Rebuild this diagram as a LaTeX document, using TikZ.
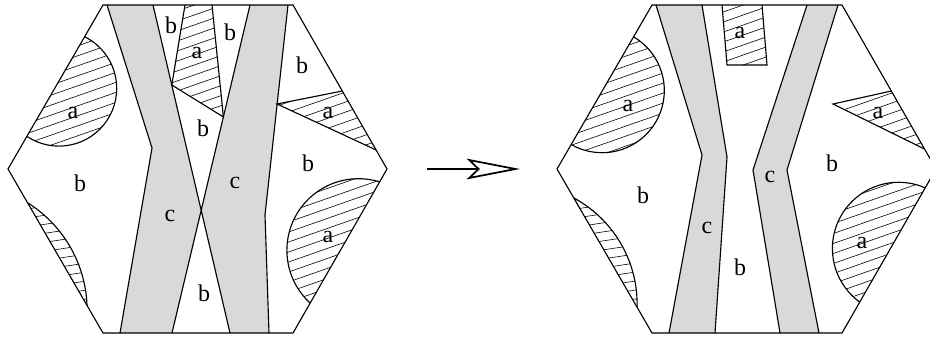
\documentclass[tikz,border=0pt]{standalone}
\usepackage{fontspec}
\setmainfont{Liberation Serif}
\usetikzlibrary{arrows.meta}
\definecolor{bandgray}{RGB}{217,217,217}
\tikzset{
  edge/.style={line width=0.85pt,black},
  hatchline/.style={line width=0.45pt,black},
  lbl/.style={font=\fontsize{18}{20}\selectfont,inner sep=0pt},
  flowarrow/.style={line width=1.3pt,-{Stealth[open,length=40pt,width=15.5pt,inset=8pt]}},
}
% hexagon outline, local frame
\newcommand{\hexpath}{(103,5) -- (293,5) -- (387,169) -- (293,333) -- (103,333) -- (8,169) -- cycle}
% #1 clip commands, #2 slope, #3 gap
\newcommand{\hatchin}[3]{%
  \begin{scope}
    #1
    \foreach \k in {-30,...,70}
      \draw[hatchline] (-20,{\k*#3}) -- ++(430,{-430*#2});
  \end{scope}}

\begin{document}
\begin{tikzpicture}[x=0.75pt,y=-0.75pt]
\clip (0,0) rectangle (930,339);

% left hexagon
\fill[bandgray] (107,5) -- (153,5) -- (201.2,210.3) -- (250,5) -- (288,5) -- (265,215) -- (269,333)
  -- (230,333) -- (201.2,210.3) -- (172,333) -- (120,333) -- (152,148) -- cycle;
\hatchin{\clip (185,5) -- (212,5) -- (223.4,117) -- (171.8,85) -- cycle;}{0.35}{10}
\hatchin{\clip (277,104) -- (342.3,91) -- (376.1,150) -- cycle;}{0.35}{10}
\hatchin{\clip \hexpath; \clip (59,88.4) circle (57.7);}{0.35}{10}
\hatchin{\clip \hexpath; \clip (-39.6,310.2) circle (126.7);}{0.15}{9}
\hatchin{\clip \hexpath; \clip (358.5,250.3) circle (71.6);}{0.35}{10}
\begin{scope}
  \clip \hexpath;
  \draw[edge] (59,88.4) circle (57.7) (-39.6,310.2) circle (126.7) (358.5,250.3) circle (71.6);
\end{scope}
\draw[edge] (107,5) -- (152,148) -- (120,333) (288,5) -- (265,215) -- (269,333);
\draw[edge] (153,5) -- (230,333) (250,5) -- (172,333);
\draw[edge] (185,5) -- (171.8,85) -- (223.4,117) -- (212,5);
\draw[edge] (342.3,91) -- (277,104) -- (376.1,150);
\draw[edge] \hexpath;
\foreach \t/\x/\y in {b/171/25,a/197/53,b/230/32,b/203/128,a/73/113,b/80/183,c/170/216,
  c/235/183,b/204/293,b/302/65,a/328/113,b/308/163,a/328/237}
  \node[lbl] (left\t\x) at (\x,\y) {\t};

% arrow
\coordinate (arrowstart) at (427,169);
\coordinate (arrowend) at (520,169);
\draw[flowarrow] (arrowstart) -- (arrowend);

% right hexagon
\begin{scope}[shift={(549,0)}]
\fill[bandgray] (107,5) -- (153,5) -- (178,157) -- (166,333) -- (120,333) -- (153,155) -- cycle;
\fill[bandgray] (258,5) -- (289,5) -- (238,170) -- (270,333) -- (231,333) -- (204,170) -- cycle;
\hatchin{\clip (173,5) -- (213,5) -- (218,65) -- (178,65) -- cycle;}{0.35}{10}
\hatchin{\clip (284,104) -- (342.3,91) -- (375.5,149) -- cycle;}{0.35}{10}
\hatchin{\clip \hexpath; \clip (53.1,90.5) circle (62.2);}{0.35}{10}
\hatchin{\clip \hexpath; \clip (-32.6,304.1) circle (120.7);}{0.15}{9}
\hatchin{\clip \hexpath; \clip (349.6,248.5) circle (66.2);}{0.35}{10}
\begin{scope}
  \clip \hexpath;
  \draw[edge] (53.1,90.5) circle (62.2) (-32.6,304.1) circle (120.7) (349.6,248.5) circle (66.2);
\end{scope}
\draw[edge] (107,5) -- (153,155) -- (120,333) (153,5) -- (178,157) -- (166,333);
\draw[edge] (258,5) -- (204,170) -- (231,333) (289,5) -- (238,170) -- (270,333);
\draw[edge] (173,5) -- (178,65) -- (218,65) -- (213,5);
\draw[edge] (342.3,91) -- (284,104) -- (375.5,149);
\draw[edge] \hexpath;
\foreach \t/\x/\y in {a/79/106,a/191/33,a/329/113,a/313/243,b/94/195,c/158/228,
  b/191/267,c/221/177,b/283/163}
  \node[lbl] (right\t\x) at (\x,\y) {\t};
\end{scope}
\end{tikzpicture}
\end{document}
